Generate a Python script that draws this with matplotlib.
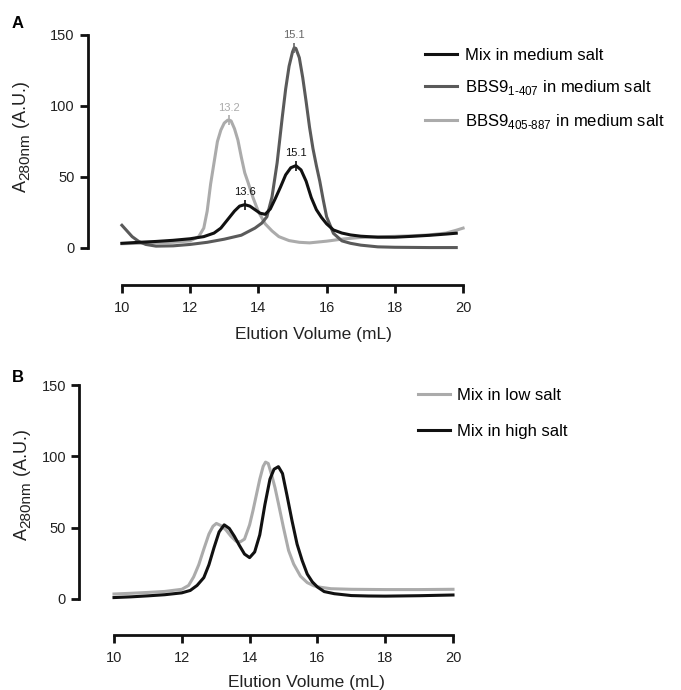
import numpy as np
import matplotlib
matplotlib.use("Agg")
import matplotlib.pyplot as plt

plt.rcParams["font.family"] = ["Liberation Sans", "DejaVu Sans"]
plt.rcParams["mathtext.fontset"] = "custom"
plt.rcParams["mathtext.rm"] = "Liberation Sans"

# --- panel A: medium salt runs ---
a_mix_x = [10.0, 10.5, 11.0, 11.5, 12.0, 12.4, 12.7, 12.9, 13.1, 13.3, 13.45, 13.6, 13.75,
           13.9, 14.05, 14.2, 14.35, 14.5, 14.65, 14.8, 14.95, 15.1, 15.25, 15.4, 15.55,
           15.7, 15.85, 16.0, 16.2, 16.45, 16.7, 17.0, 17.5, 18.0, 18.5, 19.0, 19.5, 19.8]
a_mix_y = [3.3, 4.0, 4.6, 5.4, 6.5, 8.0, 10.5, 14.0, 20.0, 26.0, 29.5, 30.5, 29.5,
           27.0, 24.5, 23.7, 27.5, 35.0, 43.0, 51.5, 56.5, 58.0, 55.0, 47.0, 35.5,
           27.0, 21.5, 17.0, 12.7, 10.5, 9.2, 8.3, 7.6, 7.6, 8.2, 8.9, 9.8, 10.4]

a_n_x = [10.0, 10.15, 10.3, 10.5, 10.7, 11.0, 11.5, 12.0, 12.5, 13.0, 13.5, 13.9, 14.1,
         14.25, 14.4, 14.55, 14.7, 14.8, 14.9, 15.0, 15.05, 15.1, 15.2, 15.3, 15.4, 15.5,
         15.6, 15.7, 15.8, 15.9, 16.0, 16.2, 16.45, 16.7, 17.0, 17.5, 18.0, 19.0, 19.8]
a_n_y = [16.0, 12.0, 8.0, 4.5, 2.5, 1.3, 1.5, 2.5, 4.0, 6.2, 9.0, 14.0, 17.5,
         22.0, 36.0, 60.0, 92.0, 112.0, 128.0, 138.0, 141.0, 140.5, 134.0, 120.0, 103.0, 85.0,
         70.0, 58.0, 47.0, 34.0, 22.0, 10.3, 5.0, 3.3, 2.0, 0.8, 0.5, 0.3, 0.3]

a_c_x = [10.0, 10.5, 11.0, 11.5, 12.0, 12.25, 12.4, 12.5, 12.6, 12.7, 12.8, 12.9, 13.0,
         13.1, 13.15, 13.2, 13.3, 13.4, 13.5, 13.6, 13.7, 13.85, 14.0, 14.2, 14.4, 14.6,
         14.9, 15.2, 15.5, 16.0, 16.5, 17.0, 17.5, 18.0, 18.5, 19.0, 19.5, 19.8, 20.0]
a_c_y = [3.0, 3.3, 3.6, 4.0, 5.0, 8.0, 14.0, 26.0, 45.0, 60.0, 75.0, 83.0, 88.0,
         90.0, 90.0, 89.5, 84.0, 76.0, 64.0, 53.0, 46.0, 35.0, 25.6, 17.0, 12.0, 8.0,
         5.2, 4.0, 3.6, 4.8, 6.4, 7.4, 7.8, 8.2, 8.6, 9.2, 10.5, 12.5, 14.0]

# --- panel B: low / high salt ---
b_high_x = [10.0, 10.5, 11.0, 11.5, 12.0, 12.25, 12.45, 12.65, 12.8, 12.95, 13.1, 13.25,
            13.4, 13.55, 13.7, 13.85, 14.0, 14.15, 14.3, 14.45, 14.6, 14.72, 14.85, 14.97,
            15.1, 15.25, 15.4, 15.55, 15.7, 15.85, 16.0, 16.2, 16.5, 17.0, 17.5, 18.0, 19.0, 20.0]
b_high_y = [1.0, 1.5, 2.2, 3.0, 4.3, 6.0, 9.5, 15.0, 24.0, 36.0, 47.0, 52.0,
            49.5, 44.0, 37.5, 31.5, 29.0, 33.0, 45.0, 66.0, 84.0, 91.0, 92.8, 88.0,
            73.0, 55.0, 38.5, 27.0, 17.5, 12.0, 8.4, 5.2, 3.7, 2.4, 2.1, 2.0, 2.3, 2.8]

b_low_x = [10.0, 10.5, 11.0, 11.5, 12.0, 12.2, 12.35, 12.5, 12.65, 12.8, 12.92, 13.02,
           13.15, 13.3, 13.45, 13.6, 13.72, 13.85, 14.0, 14.1, 14.2, 14.3, 14.4, 14.47,
           14.55, 14.65, 14.75, 14.85, 15.0, 15.15, 15.3, 15.5, 15.7, 15.9, 16.1, 16.4,
           17.0, 18.0, 19.0, 20.0]
b_low_y = [3.5, 4.0, 4.6, 5.3, 6.8, 9.5, 15.5, 24.0, 35.0, 45.5, 51.0, 53.0,
           51.5, 48.5, 44.0, 40.5, 40.0, 42.0, 52.0, 62.0, 73.0, 84.0, 93.0, 96.0,
           95.0, 87.0, 78.0, 67.0, 50.0, 34.0, 24.5, 16.0, 11.5, 9.2, 8.2, 7.2,
           6.8, 6.6, 6.6, 6.8]

# peak labels in panel A
a_mix_peaks = [13.6, 15.1]
a_n_peak = [15.05]
a_c_peak = [13.15]

BLACK = "#111111"
DARK = "#5a5a5a"
LIGHT = "#ababab"
LW = 2.2
W, H = 681, 690

xticks = [10, 12, 14, 16, 18, 20]
yticks = [0, 50, 100, 150]


def style_axes(ax, left_off, bottom_off):
    ax.set_xlim(10, 20)
    ax.set_ylim(0, 150)
    ax.set_xticks(xticks)
    ax.set_yticks(yticks)
    for s in ["top", "right"]:
        ax.spines[s].set_visible(False)
    ax.spines["left"].set_position(("outward", left_off))
    ax.spines["bottom"].set_position(("outward", bottom_off))
    ax.spines["left"].set_bounds(0, 150)
    ax.spines["bottom"].set_bounds(10, 20)
    for s in ["left", "bottom"]:
        ax.spines[s].set_linewidth(2)
        ax.spines[s].set_color(BLACK)
    ax.tick_params(width=2, length=5.5, labelsize=10.5, pad=4,
                   color=BLACK, labelcolor="#222222")
    ax.tick_params(axis="x", pad=6)
    ax.patch.set_visible(False)


def draw_ylabel(fig, x_px, y_px):
    # A, subscript 280nm, then (A.U.) -- stacked upward along the rotated baseline
    r = fig.canvas.get_renderer()
    parts = [("A", 13, 0), ("280nm", 11, 3), (" (A.U.)", 13, 0)]
    y = y_px
    for txt, size, shift in parts:
        t = fig.text((x_px + shift) / W, 1 - y / H, txt, rotation=90,
                     rotation_mode="anchor", ha="left", va="baseline",
                     fontsize=size, color="#222222")
        y -= t.get_window_extent(r).height


fig = plt.figure(figsize=(W / 100, H / 100), dpi=100)

# panel A
ax1 = fig.add_axes([0.179, 0.6406, 0.501, 0.3087])
l1, = ax1.plot(a_mix_x, a_mix_y, color=BLACK, lw=LW, clip_on=False, zorder=4,
               label="Mix in medium salt")
l2, = ax1.plot(a_n_x, a_n_y, color=DARK, lw=LW, clip_on=False, zorder=3,
               label=r"BBS9$_{\text{1-407}}$ in medium salt")
l3, = ax1.plot(a_c_x, a_c_y, color=LIGHT, lw=LW, clip_on=False, zorder=2,
               label=r"BBS9$_{\text{405-887}}$ in medium salt")
style_axes(ax1, 24.5, 26.5)

for xs, ys, peaks, col, txt in [
    (a_mix_x, a_mix_y, a_mix_peaks, BLACK, ["13.6", "15.1"]),
    (a_n_x, a_n_y, a_n_peak, "#666666", ["15.1"]),
    (a_c_x, a_c_y, a_c_peak, LIGHT, ["13.2"]),
]:
    for px, t in zip(peaks, txt):
        py = np.interp(px, xs, ys)
        ax1.plot(px, py, marker="|", ms=7, mew=1.2, color=col, clip_on=False, zorder=5)
        ax1.annotate(t, (px, py), xytext=(0, 9), textcoords="offset points",
                     ha="center", va="center", fontsize=8, color=col)

ax1.legend(handles=[l1, l2, l3], loc="upper left", frameon=False, fontsize=12,
           bbox_to_anchor=(425 / W, 1 - 48 / H), bbox_transform=fig.transFigure,
           borderpad=0, borderaxespad=0, handlelength=1.9, handletextpad=0.5,
           labelspacing=0.9)

draw_ylabel(fig, 26, 192)
fig.text(313 / W, 1 - 335 / H, "Elution Volume (mL)", ha="center", va="center",
         fontsize=12.5, color="#222222")
fig.text(12 / W, 1 - 24 / H, "A", fontsize=12, fontweight="bold", ha="left", va="center")

# panel B
ax2 = fig.add_axes([0.1674, 0.1319, 0.4978, 0.310])
m1, = ax2.plot(b_low_x, b_low_y, color=LIGHT, lw=LW, clip_on=False, zorder=2,
               label="Mix in low salt")
m2, = ax2.plot(b_high_x, b_high_y, color=BLACK, lw=LW, clip_on=False, zorder=3,
               label="Mix in high salt")
style_axes(ax2, 25, 26)

ax2.legend(handles=[m1, m2], loc="upper left", frameon=False, fontsize=12,
           bbox_to_anchor=(418 / W, 1 - 388 / H), bbox_transform=fig.transFigure,
           borderpad=0, borderaxespad=0, handlelength=1.9, handletextpad=0.45,
           labelspacing=1.27)

draw_ylabel(fig, 27, 540)
fig.text(306 / W, 1 - 682 / H, "Elution Volume (mL)", ha="center", va="center",
         fontsize=12.5, color="#222222")
fig.text(12 / W, 1 - 378 / H, "B", fontsize=12, fontweight="bold", ha="left", va="center")

fig.savefig("out.png", dpi=100)
